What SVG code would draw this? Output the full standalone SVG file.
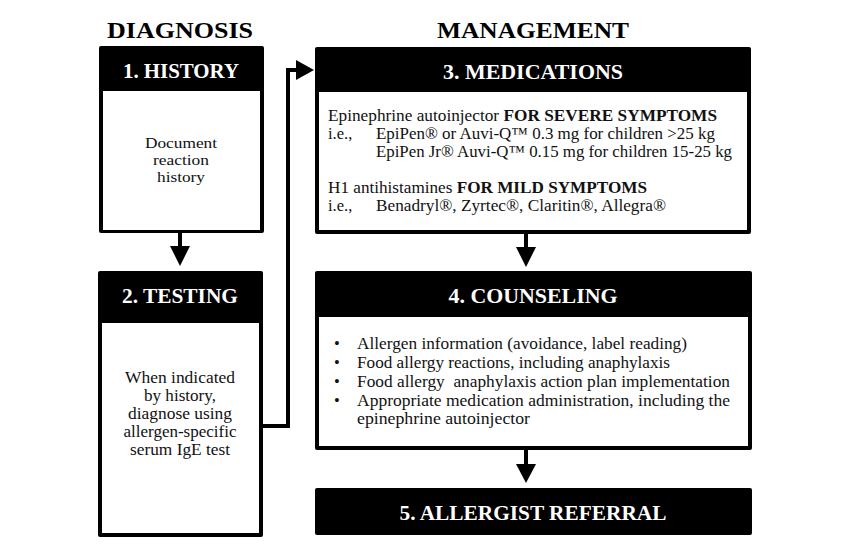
<svg xmlns="http://www.w3.org/2000/svg" width="850" height="558" viewBox="0 0 850 558">
<style>
.frame{fill:#000;}
.inner{fill:#fff;}
.title{font-family:"Liberation Serif","DejaVu Serif",serif;font-weight:bold;font-size:24px;fill:#000;text-anchor:middle;}
.hdr{font-family:"Liberation Serif","DejaVu Serif",serif;font-weight:bold;font-size:21px;fill:#fff;text-anchor:middle;}
.body{font-family:"Liberation Serif","DejaVu Serif",serif;font-size:16.5px;fill:#111;}
.sm{font-size:15px;}
.c{text-anchor:middle;}
.b{font-weight:bold;}
.conn{fill:none;stroke:#000;stroke-width:4;}
</style>
<rect width="850" height="558" fill="#fff"/>
<text class="title" x="180" y="38" textLength="146" lengthAdjust="spacingAndGlyphs">DIAGNOSIS</text>
<text class="title" x="533" y="38" textLength="192" lengthAdjust="spacingAndGlyphs">MANAGEMENT</text>

<g id="history">
<rect class="frame" x="99" y="46" width="165" height="187" rx="2"/>
<rect class="inner" x="103" y="91" width="157" height="139"/>
<text class="hdr" x="181" y="78" textLength="116" lengthAdjust="spacingAndGlyphs">1. HISTORY</text>
<text class="body sm c" x="181" y="148" textLength="72" lengthAdjust="spacingAndGlyphs">Document</text>
<text class="body sm c" x="181" y="165" textLength="56" lengthAdjust="spacingAndGlyphs">reaction</text>
<text class="body sm c" x="181" y="182" textLength="48" lengthAdjust="spacingAndGlyphs">history</text>
</g>

<g id="testing">
<rect class="frame" x="98" y="271" width="165" height="266" rx="2"/>
<rect class="inner" x="102" y="323" width="157" height="210"/>
<text class="hdr" x="180" y="303" textLength="116" lengthAdjust="spacingAndGlyphs">2. TESTING</text>
<text class="body c" x="180" y="383" textLength="110" lengthAdjust="spacingAndGlyphs">When indicated</text>
<text class="body c" x="180" y="401" textLength="72" lengthAdjust="spacingAndGlyphs">by history,</text>
<text class="body c" x="180" y="419" textLength="104" lengthAdjust="spacingAndGlyphs">diagnose using</text>
<text class="body c" x="180" y="437" textLength="113" lengthAdjust="spacingAndGlyphs">allergen-specific</text>
<text class="body c" x="180" y="455" textLength="100" lengthAdjust="spacingAndGlyphs">serum IgE test</text>
</g>

<g id="medications">
<rect class="frame" x="315" y="47" width="436" height="187" rx="2"/>
<rect class="inner" x="319" y="92" width="428" height="138"/>
<text class="hdr" x="533" y="79" textLength="180" lengthAdjust="spacingAndGlyphs">3. MEDICATIONS</text>
<text class="body" x="328" y="121" textLength="389" lengthAdjust="spacingAndGlyphs">Epinephrine autoinjector <tspan class="b">FOR SEVERE SYMPTOMS</tspan></text>
<text class="body" x="328" y="139">i.e.,</text>
<text class="body" x="376" y="139" textLength="339" lengthAdjust="spacingAndGlyphs">EpiPen® or Auvi-Q™ 0.3 mg for children &gt;25 kg</text>
<text class="body" x="376" y="157" textLength="356" lengthAdjust="spacingAndGlyphs">EpiPen Jr® Auvi-Q™ 0.15 mg for children 15-25 kg</text>
<text class="body" x="328" y="193" textLength="319" lengthAdjust="spacingAndGlyphs">H1 antihistamines <tspan class="b">FOR MILD SYMPTOMS</tspan></text>
<text class="body" x="328" y="211">i.e.,</text>
<text class="body" x="376" y="211" textLength="290" lengthAdjust="spacingAndGlyphs">Benadryl®, Zyrtec®, Claritin®, Allegra®</text>
</g>

<g id="counseling">
<rect class="frame" x="315" y="271" width="437" height="179" rx="2"/>
<rect class="inner" x="319" y="317" width="429" height="129"/>
<text class="hdr" x="533" y="303" textLength="169" lengthAdjust="spacingAndGlyphs">4. COUNSELING</text>
<text class="body" x="334" y="349">•</text>
<text class="body" x="357" y="349" textLength="330" lengthAdjust="spacingAndGlyphs">Allergen information (avoidance, label reading)</text>
<text class="body" x="334" y="368">•</text>
<text class="body" x="357" y="368" textLength="313" lengthAdjust="spacingAndGlyphs">Food allergy reactions, including anaphylaxis</text>
<text class="body" x="334" y="387">•</text>
<text class="body" x="357" y="387" textLength="373" lengthAdjust="spacingAndGlyphs" xml:space="preserve">Food allergy  anaphylaxis action plan implementation</text>
<text class="body" x="334" y="406">•</text>
<text class="body" x="357" y="406" textLength="373" lengthAdjust="spacingAndGlyphs">Appropriate medication administration, including the</text>
<text class="body" x="357" y="424" textLength="173" lengthAdjust="spacingAndGlyphs">epinephrine autoinjector</text>
</g>

<g id="referral">
<rect class="frame" x="315" y="488" width="437" height="47" rx="2"/>
<text class="hdr" x="533" y="520" textLength="267" lengthAdjust="spacingAndGlyphs">5. ALLERGIST REFERRAL</text>
</g>

<g id="connectors">
<path class="conn" d="M180,233 V248"/>
<path d="M170,246 L190,246 L180,266 Z" fill="#000"/>
<path class="conn" d="M263,426 H288 V70 H298"/>
<path d="M296,60 L314,70 L296,80 Z" fill="#000"/>
<path class="conn" d="M526,234 V249"/>
<path d="M516,247 L536,247 L526,267 Z" fill="#000"/>
<path class="conn" d="M526,450 V466"/>
<path d="M516,464 L536,464 L526,483 Z" fill="#000"/>
</g>
</svg>
